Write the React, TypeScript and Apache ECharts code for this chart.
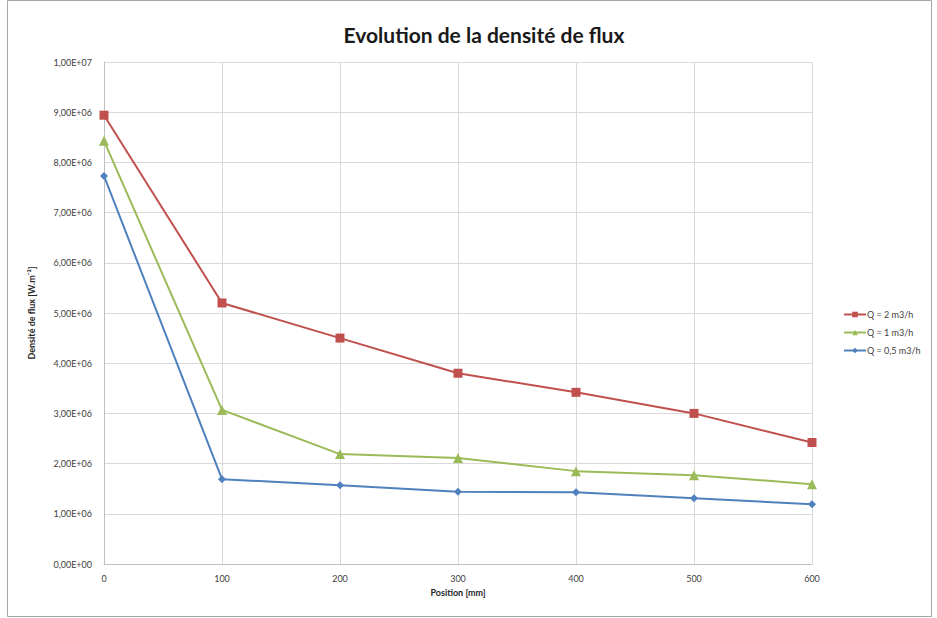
import React, { useEffect, useRef } from "react";
import * as echarts from "echarts";

const positions = [0, 100, 200, 300, 400, 500, 600];
const seriesNames = ["Q = 2 m3/h", "Q = 1 m3/h", "Q = 0,5 m3/h"];
const q2 = [8.94e6, 5.2e6, 4.5e6, 3.8e6, 3.42e6, 3.0e6, 2.42e6];
const q1 = [8.43e6, 3.07e6, 2.19e6, 2.11e6, 1.85e6, 1.77e6, 1.59e6];
const q05 = [7.73e6, 1.69e6, 1.57e6, 1.44e6, 1.43e6, 1.31e6, 1.19e6];
const colors = ["#C0504D", "#9BBB59", "#4F81BD"];
const symbols = ["rect", "triangle", "diamond"];

const fmtSci = (v: number) => {
  if (v === 0) return "0,00E+00";
  const e = Math.floor(Math.log10(Math.abs(v)) + 1e-9);
  const m = v / Math.pow(10, e);
  return m.toFixed(2).replace(".", ",") + "E+" + String(e).padStart(2, "0");
};

const FONT = "Lato, 'Open Sans', sans-serif";

export default function App() {
  const ref = useRef<HTMLDivElement>(null);
  useEffect(() => {
    if (!ref.current) return;
    const chart = echarts.init(ref.current, undefined, { renderer: "svg" });
    const datasets = [q2, q1, q05];
    chart.setOption({
      animation: false,
      backgroundColor: "#ffffff",
      textStyle: { fontFamily: FONT },
      title: {
        text: "Evolution de la densité de flux",
        left: 479,
        textAlign: "center",
        top: 19,
        textStyle: { fontFamily: FONT, fontSize: 21, fontWeight: "bold", color: "#1a1a1a" },
      },
      graphic: [
        {
          type: "rect",
          shape: { x: 7.5, y: 0.5, width: 924, height: 616 },
          style: { fill: "none", stroke: "#a6a6a6", lineWidth: 1 },
          silent: true,
        },
      ],
      legend: {
        orient: "vertical",
        left: 838,
        top: 305,
        itemGap: 9,
        itemWidth: 22,
        itemHeight: 7,
        textStyle: { fontFamily: FONT, fontSize: 9, color: "#404040", padding: [0, 0, 0, -4] },
        data: seriesNames,
      },
      grid: { left: 104, right: 125, top: 62, bottom: 54 },
      xAxis: {
        type: "value",
        min: 0,
        max: 600,
        interval: 100,
        name: "Position [mm]",
        nameLocation: "middle",
        nameGap: 22,
        nameTextStyle: { fontFamily: FONT, fontSize: 9, fontWeight: "bold", color: "#262626" },
        axisLine: { show: true, lineStyle: { color: "#bfbfbf" } },
        axisTick: { show: false },
        axisLabel: { fontFamily: FONT, fontSize: 9, color: "#404040", margin: 10 },
        splitLine: { show: true, lineStyle: { color: "#d9d9d9" } },
      },
      yAxis: {
        type: "value",
        min: 0,
        max: 1e7,
        interval: 1e6,
        name: "Densité de flux [W.m⁻²]",
        nameLocation: "middle",
        nameGap: 68,
        nameRotate: 90,
        nameTextStyle: { fontFamily: FONT, fontSize: 9, fontWeight: "bold", color: "#262626" },
        axisLine: { show: true, lineStyle: { color: "#bfbfbf" } },
        axisTick: { show: false },
        axisLabel: { fontFamily: FONT, fontSize: 9, color: "#404040", margin: 12, formatter: fmtSci },
        splitLine: { show: true, lineStyle: { color: "#d9d9d9" } },
      },
      series: datasets.map((d, i) => ({
        name: seriesNames[i],
        type: "line",
        data: positions.map((p, j) => [p, d[j]]),
        symbol: symbols[i],
        symbolSize: i === 0 ? 9 : i === 1 ? 10 : 8,
        showAllSymbol: true,
        lineStyle: { color: colors[i], width: 2 },
        itemStyle: { color: colors[i] },
        z: 3 - i,
      })),
    });
    return () => chart.dispose();
  }, []);
  return (
    <div
      ref={ref}
      style={{ position: "fixed", left: 0, top: 0, width: 937, height: 618 }}
    />
  );
}
